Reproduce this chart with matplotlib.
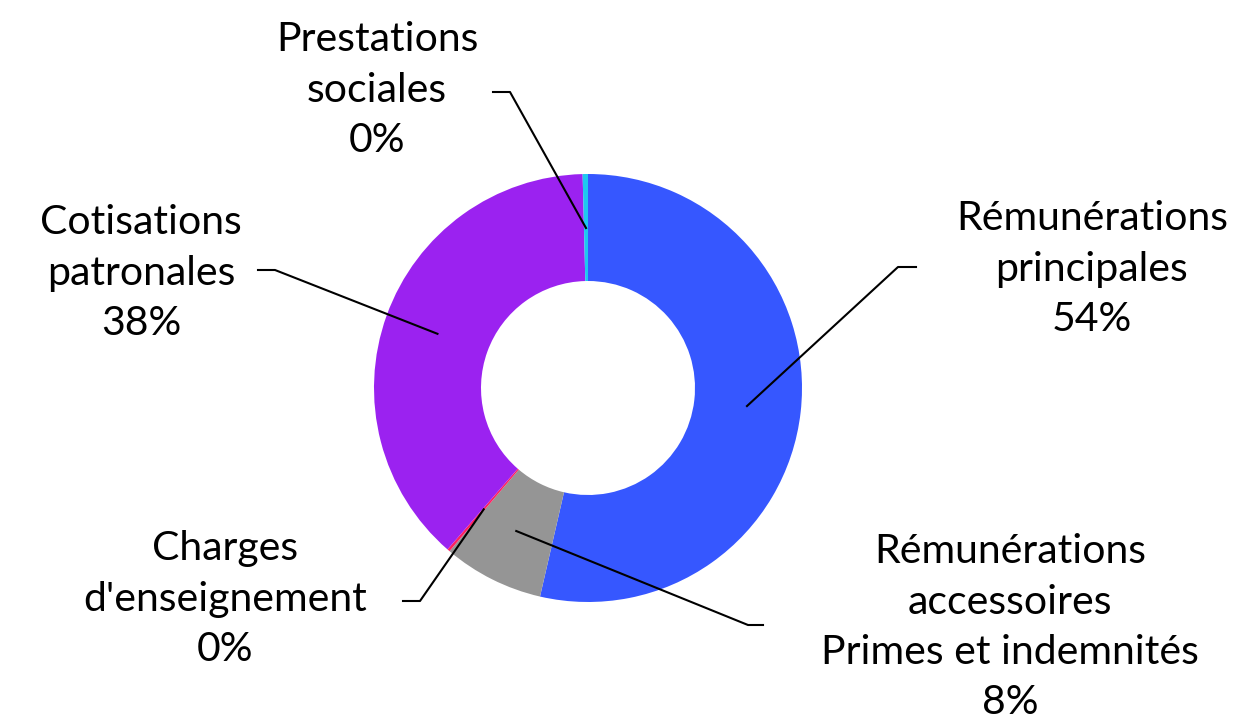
import numpy as np
import matplotlib.pyplot as plt

plt.rcParams['font.family'] = ['Lato', 'DejaVu Sans']

labels = ["Rémunérations\nprincipales", "Rémunérations\naccessoires\nPrimes et indemnités",
          "Charges\nd'enseignement", "Cotisations\npatronales", "Prestations\nsociales"]
values = [53.6, 7.6, 0.2, 38.2, 0.4]
pct_text = ["54%", "8%", "0%", "38%", "0%"]
colors = ["#3657ff", "#959595", "#ff2060", "#9b22f0", "#1ec8f0"]

W, H = 1234, 727
# label anchor (text centre, top line) and elbow of the leader line, in pixels from top-left
label_pos = [(1092, 200), (1010, 533), (225, 530), (141, 204), (377, 21)]
elbows = [((916, 267), (898, 267)), ((763, 625), (748, 625)), ((403, 601), (420, 601)),
          ((258, 270), (275, 270)), ((493, 92), (510, 92))]

cx, cy = 588, H - 388
R = 214

fig = plt.figure(figsize=(W / 100, H / 100), dpi=100)
ax = fig.add_axes([0, 0, 1, 1])
wedges, _ = ax.pie(values, colors=colors, startangle=90, counterclock=False,
                   center=(cx, cy), radius=R, wedgeprops=dict(width=107, linewidth=0))
ax.set_xlim(0, W)
ax.set_ylim(0, H)
ax.set_aspect('equal')
ax.axis('off')

for w, lab, pct, pos, elb in zip(wedges, labels, pct_text, label_pos, elbows):
    mid = np.deg2rad((w.theta1 + w.theta2) / 2)
    px, py = cx + 160 * np.cos(mid), cy + 160 * np.sin(mid)
    (x0, y0), (x1, y1) = elb
    ax.plot([x0, x1, px], [H - y0, H - y1, py], color='black', lw=1.5)
    ax.text(pos[0], H - pos[1], lab + "\n" + pct, ha='center', va='top',
            fontsize=29.5, linespacing=1.45)

fig.savefig("out.png", dpi=100)
